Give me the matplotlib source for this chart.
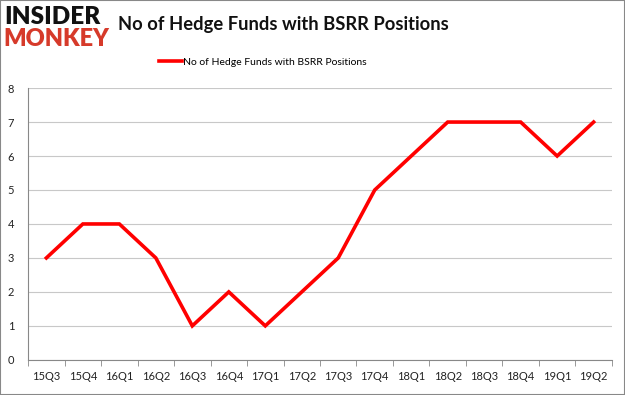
import matplotlib.pyplot as plt
from matplotlib.lines import Line2D

quarters = ['15Q3', '15Q4', '16Q1', '16Q2', '16Q3', '16Q4', '17Q1', '17Q2',
            '17Q3', '17Q4', '18Q1', '18Q2', '18Q3', '18Q4', '19Q1', '19Q2']
funds = [3, 4, 4, 3, 1, 2, 1, 2, 3, 5, 6, 7, 7, 7, 6, 7]
series_name = 'No of Hedge Funds with BSRR Positions'

plt.rcParams['font.family'] = ['Lato', 'DejaVu Sans']

fig = plt.figure(figsize=(6.25, 3.95), dpi=100)
fig.patches.append(plt.Rectangle((0, 0), 1, 1, transform=fig.transFigure,
                                 fill=False, edgecolor='#888888', lw=1.5))

ax = fig.add_axes([0.045, 0.089, 0.934, 0.688])
x = list(range(len(quarters)))
ax.plot(x, funds, color='#ff0000', lw=2.6, solid_joinstyle='miter')

ax.set_xlim(-0.5, len(quarters) - 0.5)
ax.set_ylim(0, 8)
ax.set_yticks(range(0, 9))
ax.set_xticks(x)
ax.set_xticklabels(quarters, fontsize=8, color='#222222')
ax.set_xticks([i - 0.5 for i in range(len(quarters) + 1)], minor=True)
ax.tick_params(axis='x', which='major', length=0, pad=8)
ax.tick_params(axis='x', which='minor', length=4, color='#888888')
ax.tick_params(axis='y', length=0, labelsize=8, labelcolor='#222222', pad=10)
ax.grid(axis='y', color='#c8c8c8', lw=0.8)
ax.set_axisbelow(True)
for side in ['top', 'right']:
    ax.spines[side].set_visible(False)
for side in ['left', 'bottom']:
    ax.spines[side].set_color('#888888')

# logo
fig.text(0.006, 0.985, 'INSIDER', fontsize=17.5, fontweight='heavy',
         color='#111111', va='top', ha='left')
fig.text(0.006, 0.928, 'MONKEY', fontsize=17, fontweight='heavy',
         color='#d63a2a', va='top', ha='left')

fig.text(0.189, 0.937, 'No of Hedge Funds with BSRR Positions', fontsize=13.2,
         fontweight='bold', color='#111111', va='center', ha='left')

handle = Line2D([], [], color='#ff0000', lw=2.6)
fig.legend([handle], [series_name], loc='center', bbox_to_anchor=(0.42, 0.843),
           frameon=False, fontsize=7.5, handlelength=2.2, handletextpad=0.1)

fig.savefig('out.png', dpi=100)
